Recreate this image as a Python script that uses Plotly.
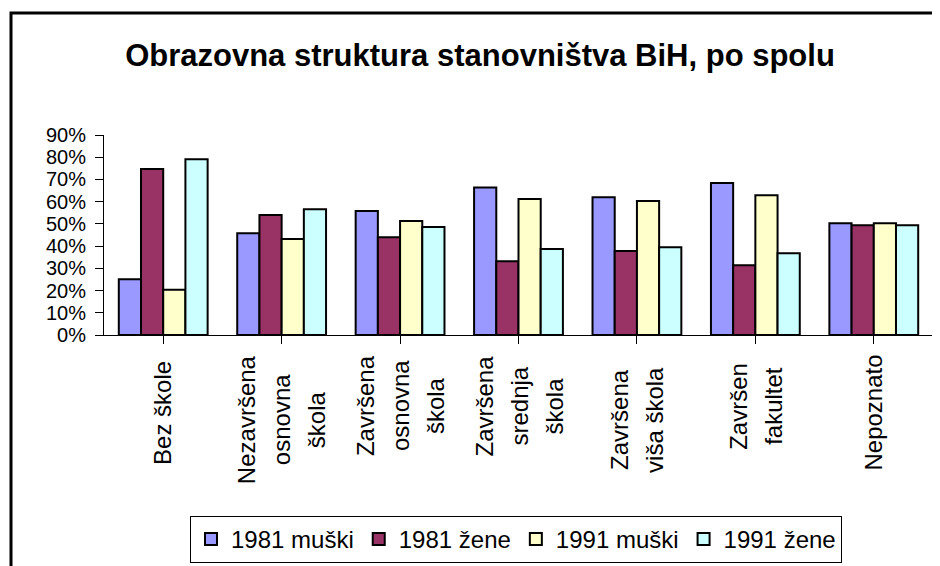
import plotly.graph_objects as go

categories = [
    "Bez škole",
    "Nezavršena<br>osnovna<br>škola",
    "Završena<br>osnovna<br>škola",
    "Završena<br>srednja<br>škola",
    "Završena<br>viša škola",
    "Završen<br>fakultet",
    "Nepoznato",
]
series_names = ["1981 muški", "1981 žene", "1991 muški", "1991 žene"]
m1981 = [25.1, 45.8, 55.8, 66.4, 62.0, 68.4, 50.3]
z1981 = [74.7, 54.0, 44.0, 33.2, 37.8, 31.4, 49.4]
m1991 = [20.4, 43.2, 51.3, 61.2, 60.3, 62.9, 50.3]
z1991 = [79.1, 56.6, 48.6, 38.7, 39.5, 36.8, 49.4]
y_ticks = [0, 10, 20, 30, 40, 50, 60, 70, 80, 90]
y_tick_labels = [f"{v}%" for v in y_ticks]
title_text = "Obrazovna struktura stanovništva BiH, po spolu"

colors = ["#9999FF", "#993366", "#FFFFCC", "#CCFFFF"]
FONT = "Arial, Liberation Sans, sans-serif"

# page body has an 8px margin: work in screen pixels, convert to figure pixels
OFF = 8
W, H = 940 - OFF, 566 - OFF
L, T = 104 - OFF, 135 - OFF
R = W - (933 - OFF)
B = H - (335 - OFF)
pw, ph = W - L - R, H - T - B

def px_x(x):  # screen pixel -> paper x
    return (x - OFF - L) / pw

def px_y(y):  # screen pixel -> paper y
    return (H - B - (y - OFF)) / ph

fig = go.Figure()
x_idx = list(range(len(categories)))
for name, vals, col in zip(series_names, [m1981, z1981, m1991, z1991], colors):
    fig.add_trace(go.Bar(
        x=x_idx, y=vals, name=name,
        marker=dict(color=col, line=dict(color="black", width=2)),
    ))

fig.update_layout(
    width=W, height=H,
    margin=dict(l=L, r=R, t=T, b=B, autoexpand=False),
    paper_bgcolor="white", plot_bgcolor="white",
    barmode="group", bargap=0.25, bargroupgap=0,
    font=dict(family=FONT, color="black", size=24),
    title=dict(text=f"<b>{title_text}</b>", font=dict(family=FONT, size=31, color="black"),
               x=(480 - OFF) / W, xanchor="center", xref="container",
               y=1 - (55 - OFF) / H, yanchor="middle", yref="container"),
    showlegend=True,
    legend=dict(orientation="h", x=px_x(516), xanchor="center", y=px_y(516), yanchor="top",
                bordercolor="black", borderwidth=1, bgcolor="white",
                font=dict(family=FONT, size=24, color="black"),
                itemwidth=30, traceorder="normal"),
)
fig.update_xaxes(
    range=[-0.5, len(categories) - 0.5],
    tickvals=x_idx, ticktext=[""] * len(categories),
    showticklabels=False,
    ticks="outside", tickson="boundaries", ticklen=8, tickcolor="black",
    showline=True, linecolor="black", linewidth=1, showgrid=False, zeroline=False,
)
fig.update_yaxes(
    range=[0, 90], tickvals=y_ticks, ticktext=y_tick_labels,
    ticks="outside", ticklen=8, tickcolor="black",
    ticklabelstandoff=5,
    showline=True, linecolor="black", linewidth=1, showgrid=False, zeroline=False,
    tickfont=dict(family=FONT, size=20, color="black"),
)

# category labels, rotated, with Excel-like line spacing
line_gap = 35
for i, cat in enumerate(categories):
    lines = cat.split("<br>")
    longest = max(len(s) for s in lines)
    center_px = 352 + longest * 13.5 / 2
    n = len(lines)
    for j, ln in enumerate(lines):
        fig.add_annotation(
            x=i, xref="x", y=px_y(center_px), yref="paper",
            text=ln, textangle=-90, showarrow=False,
            xanchor="center", yanchor="middle",
            xshift=(j - (n - 1) / 2) * line_gap,
            font=dict(family=FONT, size=24, color="black"),
        )

# outer chart frame (only top/left edges visible in the picture)
fig.add_shape(type="rect", xref="paper", yref="paper",
              x0=px_x(11), x1=px_x(960), y0=px_y(590), y1=px_y(13),
              line=dict(color="black", width=3), fillcolor="rgba(0,0,0,0)", layer="below")

fig.write_html("out.html")
